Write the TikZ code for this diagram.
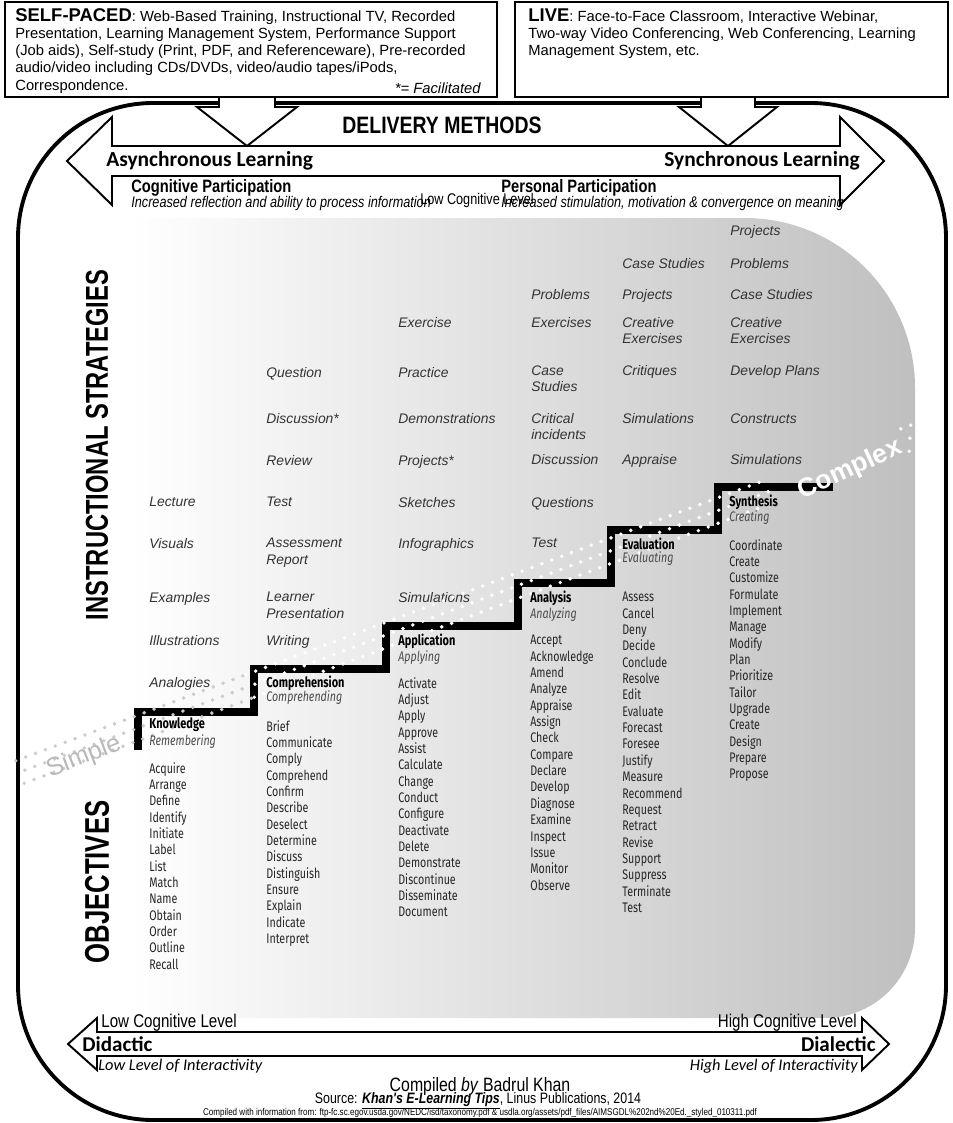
\documentclass[tikz,border=0pt]{standalone}
\usepackage{fontspec}
\setmainfont{Liberation Sans}
\newfontfamily\narrowfont{Liberation Sans}[FakeStretch=0.82]
\newfontfamily\tallfont{Liberation Sans}[FakeStretch=0.75]
\newfontfamily\calfont{Carlito}
\newfontfamily\condfont{Fira Sans}[FakeStretch=0.77]
\usepackage{tikz}
\usetikzlibrary{positioning}

\tikzset{
  boxtext/.style={anchor=north west, inner sep=0pt, align=left, font=\fontsize{8.4}{9.8}\selectfont},
  strat/.style={anchor=north west, inner sep=0pt, align=left, text=black!80, font=\itshape\fontsize{7.9}{9.2}\selectfont},
  objhead/.style={anchor=west, inner sep=0pt, font=\condfont\bfseries\fontsize{8.1}{9.3}\selectfont},
  objsub/.style={anchor=west, inner sep=0pt, text=black!70, font=\condfont\itshape\fontsize{7.9}{9.3}\selectfont},
  objlist/.style={anchor=north west, inner sep=0pt, align=left, text=black!85, font=\condfont\fontsize{7.9}{9.3}\selectfont},
  bigarrow/.style={draw=black, fill=white, line width=1.1pt, line join=miter},
  stair/.style={line width=4.5pt, line join=miter},
  banddot/.style={line width=2.2pt, line cap=round, dash pattern=on 0pt off 6pt},
}

\begin{document}
\begin{tikzpicture}[x=0.02cm, y=-0.02cm, every node/.style={inner sep=0pt}]
    \useasboundingbox (0,0) rectangle (953,1123);

    % grey backdrop
    \shade[left color=white, right color=gray!50] (130,1018) -- (130,218) [rounded corners=3.4cm] -- (915,218) [rounded corners=1.8cm] -- (915,1018) [sharp corners] -- cycle;

    % frame and top boxes
    \draw[line width=2.2pt, rounded corners=2.7cm] (18,103) rectangle (946,1120);
    \draw[line width=1.3pt] (5,2) rectangle (497,97);
    \draw[line width=1.3pt] (515,2) rectangle (948,97);

    \node[boxtext] (selfpaced) at (15,8) {{\bfseries\fontsize{10.5}{10}\selectfont SELF-PACED}: Web-Based Training, Instructional TV, Recorded\\Presentation, Learning Management System, Performance Support\\(Job aids), Self-study (Print, PDF, and Referenceware), Pre-recorded\\audio/video including CDs/DVDs, video/audio tapes/iPods,\\Correspondence.};
    \node[anchor=east, font=\itshape\fontsize{8.4}{9.8}\selectfont] (facil) at (481,88) {*= Facilitated};
    \node[boxtext] (live) at (528,8) {{\bfseries\fontsize{10.5}{10}\selectfont LIVE}: Face-to-Face Classroom, Interactive Webinar,\\Two-way Video Conferencing, Web Conferencing, Learning\\Management System, etc.};

    % delivery arrows
    \filldraw[bigarrow] (112,117) -- (67,161) -- (112,205) -- (112,176) -- (840,176) -- (840,205) -- (884,161) -- (840,117) -- (840,146) -- (112,146) -- cycle;
    \filldraw[bigarrow] (219,97) -- (219,107) -- (197,107) -- (247,146) -- (297,107) -- (275,107) -- (275,97) -- cycle;
    \filldraw[bigarrow] (701,97) -- (701,107) -- (679,107) -- (728,146) -- (777,107) -- (755,107) -- (755,97) -- cycle;

    \node[font=\narrowfont\bfseries\fontsize{13.5}{14}\selectfont] (deliv) at (442,125) {DELIVERY METHODS};
    \node[anchor=west, font=\calfont\bfseries\fontsize{12.2}{12}\selectfont] (async) at (106,161) {Asynchronous Learning};
    \node[anchor=east, font=\calfont\bfseries\fontsize{12.2}{12}\selectfont] (sync) at (860,161) {Synchronous Learning};
    \node[anchor=west, font=\narrowfont\bfseries\fontsize{10.2}{10}\selectfont] (cogpart) at (131,188) {Cognitive Participation};
    \node[anchor=west, font=\narrowfont\itshape\fontsize{8.8}{9}\selectfont] (cogtxt) at (131,203) {Increased reflection and ability to process information};
    \node[anchor=west, font=\narrowfont\bfseries\fontsize{10.2}{10}\selectfont] (perspart) at (501,188) {Personal Participation};
    \node[anchor=west, font=\narrowfont\itshape\fontsize{8.8}{9}\selectfont] (perstxt) at (501,203) {Increased stimulation, motivation \& convergence on meaning};
    \node[font=\narrowfont\fontsize{8.8}{9}\selectfont] (lowtop) at (477,200) {Low Cognitive Level};

    % side titles
    \node[rotate=90, font=\tallfont\bfseries\fontsize{18}{18}\selectfont] (instr) at (97,445) {INSTRUCTIONAL STRATEGIES};
    \node[rotate=90, font=\tallfont\bfseries\fontsize{19.5}{19}\selectfont] (obj) at (97,882) {OBJECTIVES};

    % instructional strategies
    \foreach \yy/\txt [count=\i] in {502/Lecture, 543/Visuals, 597/Examples, 640/Illustrations, 682/Analogies}
        \node[strat] (stra\i) at (149,\yy-5) {\txt};
    \foreach \yy/\txt [count=\i] in {372/Question, 418/Discussion*, 460/Review, 502/Test, 543/{Assessment\\Report}, 597/{Learner\\Presentation}, 640/Writing}
        \node[strat] (strb\i) at (266,\yy-5) {\txt};
    \foreach \yy/\txt [count=\i] in {322/Exercise, 372/Practice, 418/Demonstrations, 460/Projects*, 502/Sketches, 543/Infographics, 597/Simulations}
        \node[strat] (strc\i) at (398,\yy-5) {\txt};
    \foreach \yy/\txt [count=\i] in {294/Problems, 322/Exercises, 370/{Case\\Studies}, 418/{Critical\\incidents}, 459/Discussion, 502/Questions, 543/Test}
        \node[strat] (strd\i) at (531,\yy-5) {\txt};
    \foreach \yy/\txt [count=\i] in {263/Case Studies, 294/Projects, 322/{Creative\\Exercises}, 370/Critiques, 418/Simulations, 459/Appraise}
        \node[strat] (stre\i) at (622,\yy-5) {\txt};
    \foreach \yy/\txt [count=\i] in {230/Projects, 263/Problems, 294/Case Studies, 322/{Creative\\Exercises}, 370/Develop Plans, 418/Constructs, 459/Simulations}
        \node[strat] (strf\i) at (730,\yy-5) {\txt};

    % staircase
    \draw[stair] (138,750) -- (138,712) -- (254,712) -- (254,669) -- (386,669) -- (386,626) -- (518,626) -- (518,583) -- (611,583) -- (611,530) -- (718,530) -- (718,487) -- (833,487);

    % simple to complex band
    \foreach \o/\ph in {-12/0, 0/3, 12/0} {
        \draw[banddot, gray!40, dash phase=\ph pt, shift={({0.351*(\o)},{0.936*(\o)})}] (20,772) -- (250,686);
        \draw[banddot, white, dash phase=\ph pt, shift={({0.351*(\o)},{0.936*(\o)})}] (250,686) -- (770,491);
        \draw[banddot, white, dash phase=\ph pt, shift={({0.351*(\o)},{0.936*(\o)})}] (905,440) -- (935,429);
    }

    % objectives
    \node[objhead] (know) at (149,725) {Knowledge};
    \node[objsub] (knowsub) at (149,742) {Remembering};
    \node[objlist] (knowlist) at (149,762) {Acquire\\Arrange\\Define\\Identify\\Initiate\\Label\\List\\Match\\Name\\Obtain\\Order\\Outline\\Recall};

    \node[objhead] (comp) at (266,683) {Comprehension};
    \node[objsub] (compsub) at (266,698) {Comprehending};
    \node[objlist] (complist) at (266,720) {Brief\\Communicate\\Comply\\Comprehend\\Confirm\\Describe\\Deselect\\Determine\\Discuss\\Distinguish\\Ensure\\Explain\\Indicate\\Interpret};

    \node[objhead] (appl) at (398,641) {Application};
    \node[objsub] (applsub) at (398,658) {Applying};
    \node[objlist] (appllist) at (398,677) {Activate\\Adjust\\Apply\\Approve\\Assist\\Calculate\\Change\\Conduct\\Configure\\Deactivate\\Delete\\Demonstrate\\Discontinue\\Disseminate\\Document};

    \node[objhead] (anal) at (530,598) {Analysis};
    \node[objsub] (analsub) at (530,615) {Analyzing};
    \node[objlist] (anallist) at (530,635) {Accept\\Acknowledge\\Amend\\Analyze\\Appraise\\Assign\\Check\\Compare\\Declare\\Develop\\Diagnose\\Examine\\Inspect\\Issue\\Monitor\\Observe};

    \node[objhead] (eval) at (622,544) {Evaluation};
    \node[objsub] (evalsub) at (622,559) {Evaluating};
    \node[objlist] (evallist) at (622,592) {Assess\\Cancel\\Deny\\Decide\\Conclude\\Resolve\\Edit\\Evaluate\\Forecast\\Foresee\\Justify\\Measure\\Recommend\\Request\\Retract\\Revise\\Support\\Suppress\\Terminate\\Test};

    \node[objhead] (synt) at (729,502) {Synthesis};
    \node[objsub] (syntsub) at (729,518) {Creating};
    \node[objlist] (syntlist) at (729,539) {Coordinate\\Create\\Customize\\Formulate\\Implement\\Manage\\Modify\\Plan\\Prioritize\\Tailor\\Upgrade\\Create\\Design\\Prepare\\Propose};

    \node[rotate=21, text=gray!55, font=\fontsize{14.5}{15}\selectfont] (simple) at (84,757) {Simple};
    \node[rotate=25, text=white, font=\bfseries\fontsize{15}{15}\selectfont] (complex) at (850,470) {Complex};

    % bottom arrow
    \filldraw[bigarrow] (97,1018) -- (68,1044) -- (97,1070) -- (97,1056) -- (862,1056) -- (862,1070) -- (889,1044) -- (862,1018) -- (862,1032) -- (97,1032) -- cycle;
    \node[anchor=west, font=\narrowfont\fontsize{10.5}{11}\selectfont] (lowcog) at (101,1023) {Low Cognitive Level};
    \node[anchor=east, font=\narrowfont\fontsize{10.5}{11}\selectfont] (highcog) at (857,1023) {High Cognitive Level};
    \node[anchor=west, font=\calfont\bfseries\fontsize{12}{12}\selectfont] (didac) at (82,1044) {Didactic};
    \node[anchor=east, font=\calfont\bfseries\fontsize{12}{12}\selectfont] (dialec) at (876,1044) {Dialectic};
    \node[anchor=west, font=\calfont\itshape\fontsize{9.3}{9}\selectfont] (lowint) at (98,1066) {Low Level of Interactivity};
    \node[anchor=east, font=\calfont\itshape\fontsize{9.3}{9}\selectfont] (highint) at (858,1066) {High Level of Interactivity};

    % credits
    \node[font=\narrowfont\fontsize{11}{11}\selectfont] (compiled) at (480,1086) {Compiled \textit{by} Badrul Khan};
    \node[font=\narrowfont\fontsize{8.6}{9}\selectfont] (source) at (478,1101) {Source: \textbf{\textit{\underline{Khan's E-Learning Tips}}}, Linus Publications, 2014};
    \node[font=\narrowfont\fontsize{5.6}{6}\selectfont] (info) at (480,1113) {Compiled with information from: ftp-fc.sc.egov.usda.gov/NEDC/isd/taxonomy.pdf \& usdla.org/assets/pdf\_files/AIMSGDL\%202nd\%20Ed.\_styled\_010311.pdf};
\end{tikzpicture}
\end{document}
